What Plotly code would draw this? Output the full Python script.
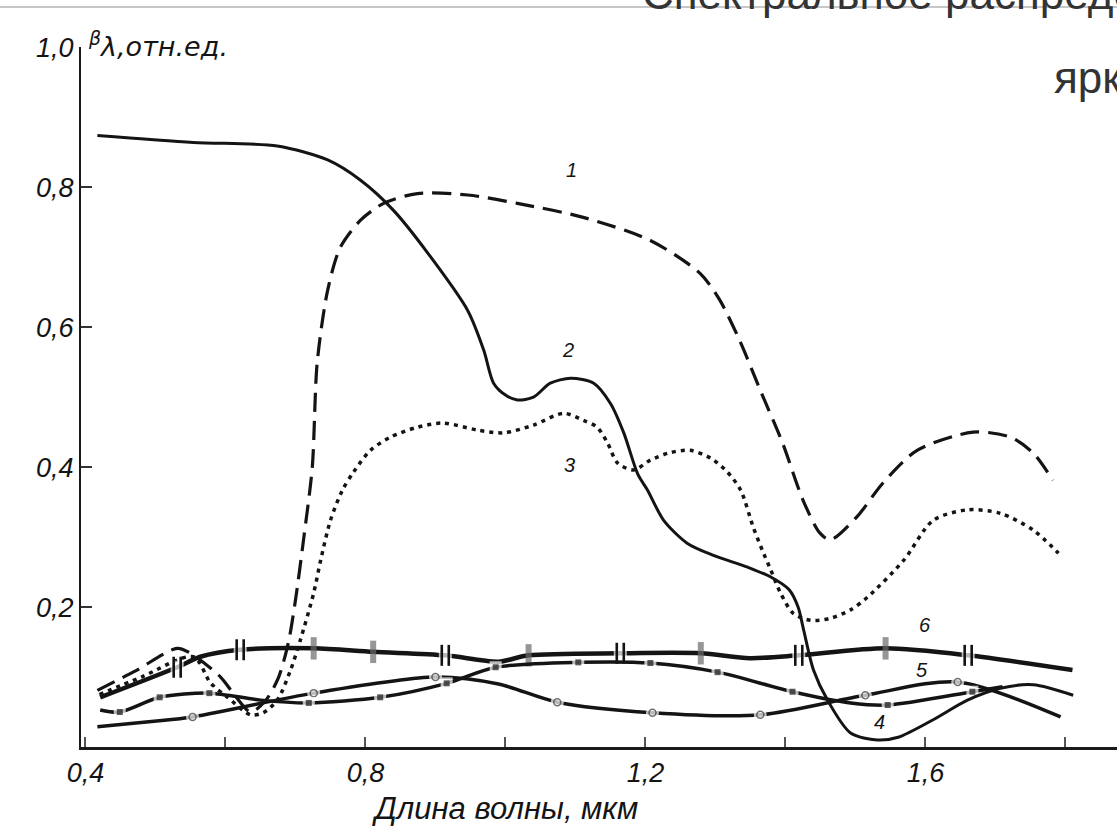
import plotly.graph_objects as go

# ---------------- data ----------------
# curve 1 (long dashes)
c1_x = [0.417, 0.47, 0.531, 0.55, 0.593, 0.611, 0.636, 0.657, 0.676, 0.690, 0.700, 0.712,
        0.724, 0.731, 0.746, 0.764, 0.793, 0.826, 0.874, 0.946, 1.017, 1.111, 1.207, 1.278,
        1.306, 1.335, 1.364, 1.396, 1.425, 1.449, 1.464, 1.502, 1.539, 1.588, 1.668, 1.721,
        1.754, 1.782]
c1_y = [0.081, 0.108, 0.141, 0.134, 0.100, 0.077, 0.050, 0.066, 0.10, 0.15, 0.21, 0.30,
        0.40, 0.549, 0.653, 0.714, 0.753, 0.777, 0.791, 0.789, 0.777, 0.757, 0.724, 0.677,
        0.639, 0.58, 0.51, 0.434, 0.353, 0.306, 0.296, 0.329, 0.377, 0.424, 0.45, 0.443,
        0.42, 0.381]

# curve 2 (solid)
c2_x = [0.417, 0.554, 0.674, 0.746, 0.793, 0.84, 0.889, 0.946, 0.969, 0.983, 1.0, 1.017,
        1.04, 1.064, 1.093, 1.126, 1.15, 1.169, 1.189, 1.203, 1.226, 1.26, 1.297, 1.346,
        1.379, 1.405, 1.418, 1.426, 1.44, 1.46, 1.493, 1.531, 1.561, 1.611, 1.66, 1.707,
        1.754, 1.811]
c2_y = [0.874, 0.864, 0.859, 0.839, 0.81, 0.767, 0.706, 0.624, 0.567, 0.52, 0.503, 0.496,
        0.50, 0.52, 0.527, 0.52, 0.491, 0.449, 0.39, 0.367, 0.324, 0.291, 0.274, 0.257,
        0.243, 0.225, 0.20, 0.167, 0.11, 0.067, 0.02, 0.01, 0.014, 0.039, 0.067, 0.084,
        0.089, 0.074]

# curve 3 (dotted)
c3_x = [0.42, 0.48, 0.554, 0.579, 0.603, 0.636, 0.654, 0.674, 0.693, 0.707, 0.726, 0.736,
        0.75, 0.767, 0.783, 0.807, 0.836, 0.874, 0.911, 0.96, 0.997, 1.04, 1.083, 1.111,
        1.131, 1.146, 1.16, 1.183, 1.207, 1.236, 1.264, 1.293, 1.317, 1.336, 1.354, 1.367,
        1.379, 1.393, 1.411, 1.436, 1.464, 1.493, 1.517, 1.569, 1.611, 1.66, 1.707, 1.754,
        1.79]
c3_y = [0.075, 0.10, 0.129, 0.091, 0.071, 0.046, 0.049, 0.067, 0.11, 0.153, 0.22, 0.267,
        0.324, 0.367, 0.393, 0.424, 0.443, 0.457, 0.463, 0.453, 0.449, 0.46, 0.477, 0.467,
        0.457, 0.434, 0.406, 0.396, 0.41, 0.421, 0.424, 0.413, 0.393, 0.367, 0.314, 0.281,
        0.253, 0.22, 0.191, 0.181, 0.184, 0.196, 0.214, 0.267, 0.324, 0.339, 0.334, 0.31,
        0.277]

# curve 4 (line with square marks); mark: 1 = marked point
c4_x = [0.421, 0.449, 0.506, 0.577, 0.65, 0.719, 0.821, 0.916, 0.986, 1.104, 1.207, 1.303,
        1.41, 1.493, 1.546, 1.667, 1.71]
c4_y = [0.053, 0.050, 0.071, 0.077, 0.067, 0.063, 0.071, 0.091, 0.114, 0.121, 0.12, 0.107,
        0.079, 0.063, 0.06, 0.079, 0.086]
c4_mark = [0, 1, 1, 1, 0, 1, 1, 1, 1, 1, 1, 1, 1, 0, 1, 1, 0]

# curve 5 (line with circle marks)
c5_x = [0.417, 0.52, 0.553, 0.726, 0.9, 0.99, 1.074, 1.21, 1.364, 1.514, 1.646, 1.793]
c5_y = [0.029, 0.039, 0.043, 0.077, 0.10, 0.09, 0.064, 0.049, 0.046, 0.074, 0.093, 0.043]
c5_mark = [0, 0, 1, 1, 1, 0, 1, 1, 1, 1, 1, 0]

# curve 6 (line with bar marks); mark: 0 none, 1 single bar, 2 double bar
c6_x = [0.421, 0.531, 0.564, 0.621, 0.726, 0.811, 0.914, 0.99, 1.033, 1.164, 1.279, 1.349,
        1.419, 1.543, 1.661, 1.81]
c6_y = [0.071, 0.114, 0.129, 0.139, 0.141, 0.136, 0.131, 0.122, 0.131, 0.134, 0.134, 0.127,
        0.131, 0.141, 0.131, 0.11]
c6_mark = [0, 2, 0, 2, 1, 1, 2, 0, 1, 2, 1, 0, 2, 1, 2, 0]

# curve number labels
lab_text = ["1", "2", "3", "4", "5", "6"]
lab_x = [1.095, 1.089, 1.092, 1.535, 1.595, 1.60]
lab_y = [0.824, 0.567, 0.403, 0.036, 0.11, 0.174]

# axis ticks
x_ticks = [0.4, 0.8, 1.2, 1.6]
x_ticktext = ["0,4", "0,8", "1,2", "1,6"]
x_minor_step = 0.2
y_ticks = [0.2, 0.4, 0.6, 0.8, 1.0]
y_ticktext = ["0,2", "0,4", "0,6", "0,8", "1,0"]

x_title = "Длина волны, мкм"
y_title = "<sup>β</sup>λ,отн.ед."
slide_line1 = "Спектральное распределение коэффициента"
slide_line2 = "яркости"

INK = "#141414"
FONT = "Liberation Sans, Arial, sans-serif"

fig = go.Figure()

# curve 1
fig.add_trace(go.Scatter(x=c1_x, y=c1_y, mode="lines",
                         line=dict(color=INK, width=3.2, dash="19px,9px", shape="spline", smoothing=0.8),
                         hoverinfo="skip", showlegend=False))
# curve 3
fig.add_trace(go.Scatter(x=c3_x, y=c3_y, mode="lines",
                         line=dict(color=INK, width=3.5, dash="4px,5px", shape="spline", smoothing=0.8),
                         hoverinfo="skip", showlegend=False))

# curve 6 (bars)
sym6 = ["square" if m == 2 else "line-ns" for m in c6_mark]
size6 = [0 if m == 0 else (13 if m == 2 else 16) for m in c6_mark]
lc6 = ["white" if m != 1 else "#6a6a6a" for m in c6_mark]
lw6 = [0 if m != 1 else 6 for m in c6_mark]
fig.add_trace(go.Scatter(x=c6_x, y=c6_y, mode="lines+markers",
                         line=dict(color=INK, width=4.5, shape="spline", smoothing=0.8),
                         marker=dict(symbol=sym6, size=size6, color="white",
                                     line=dict(color=lc6, width=lw6)),
                         hoverinfo="skip", showlegend=False))
# double bars: two thin bars either side of each double-marked point
dx = 0.005
dbl_x = [x for x, m in zip(c6_x, c6_mark) if m == 2]
dbl_y = [y for y, m in zip(c6_y, c6_mark) if m == 2]
for side in (-1, 1):
    fig.add_trace(go.Scatter(x=[x + side * dx for x in dbl_x], y=dbl_y, mode="markers",
                             marker=dict(symbol="line-ns", size=15, color=INK,
                                         line=dict(color=INK, width=2.6)),
                             hoverinfo="skip", showlegend=False))

# curve 5 (circles)
size5w = [13 if m else 0 for m in c5_mark]
size5 = [7 if m else 0 for m in c5_mark]
fig.add_trace(go.Scatter(x=c5_x, y=c5_y, mode="lines+markers",
                         line=dict(color=INK, width=3.5, shape="spline", smoothing=0.8),
                         marker=dict(symbol="circle", size=size5w, color="white", line=dict(width=0)),
                         hoverinfo="skip", showlegend=False))
fig.add_trace(go.Scatter(x=c5_x, y=c5_y, mode="markers",
                         marker=dict(symbol="circle-open", size=size5, color="#333",
                                     line=dict(width=1.5)),
                         hoverinfo="skip", showlegend=False))

# curve 4 (squares)
size4w = [12 if m else 0 for m in c4_mark]
size4 = [6 if m else 0 for m in c4_mark]
fig.add_trace(go.Scatter(x=c4_x, y=c4_y, mode="lines+markers",
                         line=dict(color=INK, width=3.5, shape="spline", smoothing=0.8),
                         marker=dict(symbol="square", size=size4w, color="white", line=dict(width=0)),
                         hoverinfo="skip", showlegend=False))
fig.add_trace(go.Scatter(x=c4_x, y=c4_y, mode="markers",
                         marker=dict(symbol="square", size=size4, color=INK, line=dict(width=0)),
                         hoverinfo="skip", showlegend=False))

# curve 2 (solid) on top
fig.add_trace(go.Scatter(x=c2_x, y=c2_y, mode="lines",
                         line=dict(color=INK, width=3, shape="spline", smoothing=0.8),
                         hoverinfo="skip", showlegend=False))

annotations = []
for t, x, y in zip(lab_text, lab_x, lab_y):
    annotations.append(dict(x=x, y=y, xref="x", yref="y", text=t, showarrow=False,
                            font=dict(family=FONT, size=20, color=INK, style="italic")))

annotations += [
    dict(x=0.005, y=1.004, xref="paper", yref="paper", text=y_title, showarrow=False,
         xanchor="left", yanchor="middle",
         font=dict(family="DejaVu Sans, sans-serif", size=27, color=INK, style="italic")),
    dict(x=1.0, y=0, xref="x", yref="paper", yshift=-61, text=x_title, showarrow=False,
         xanchor="center", yanchor="middle",
         font=dict(family=FONT, size=31, color=INK, style="italic")),
    dict(x=0.5396, y=1.077, xref="paper", yref="paper", text=slide_line1, showarrow=False,
         xanchor="left", yanchor="middle",
         font=dict(family=FONT, size=44, color="#333333")),
    dict(x=0.937, y=0.957, xref="paper", yref="paper", text=slide_line2, showarrow=False,
         xanchor="left", yanchor="middle",
         font=dict(family=FONT, size=44, color="#333333")),
]

fig.update_layout(
    width=1117, height=839,
    margin=dict(l=81, r=0, t=47, b=92, pad=0),
    paper_bgcolor="white", plot_bgcolor="white",
    showlegend=False,
    annotations=annotations,
    shapes=[dict(type="line", xref="paper", yref="paper", x0=-0.08, x1=1.0,
                 y0=1.057, y1=1.057, line=dict(color="#b4b4b4", width=1.5))],
    xaxis=dict(range=[0.3936, 1.8736], showgrid=False, zeroline=False,
               showline=True, linecolor="#1a1a1a", linewidth=3,
               ticks="inside", ticklen=10, tickwidth=2, tickcolor="#555",
               tickvals=x_ticks, ticktext=x_ticktext,
               minor=dict(ticks="inside", ticklen=10, tickwidth=2, tickcolor="#555",
                          tick0=x_ticks[0], dtick=x_minor_step, showgrid=False),
               tickfont=dict(family=FONT, size=27, color=INK, style="italic")),
    yaxis=dict(range=[0, 1.0005], showgrid=False, zeroline=False,
               showline=True, linecolor="#1a1a1a", linewidth=2,
               ticks="inside", ticklen=11, tickwidth=2, tickcolor="#333",
               tickvals=y_ticks, ticktext=y_ticktext,
               tickfont=dict(family=FONT, size=27, color=INK, style="italic")),
)

fig.write_html("out.html")
